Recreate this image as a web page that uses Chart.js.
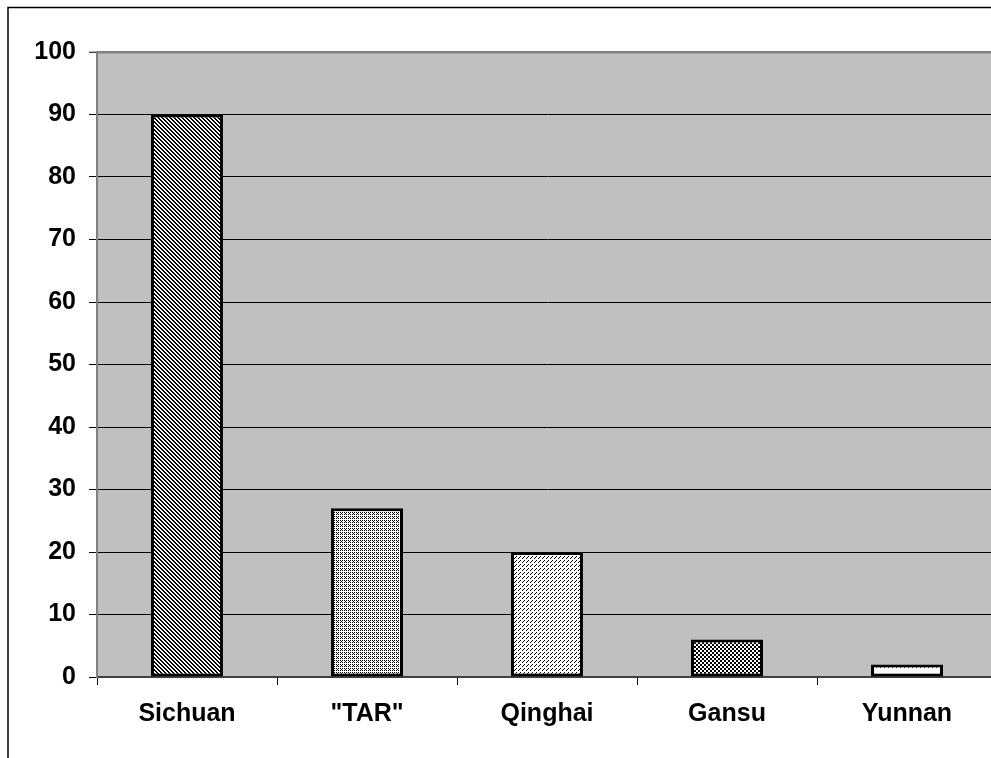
<!DOCTYPE html>
<html>
<head>
<meta charset="utf-8">
<script src="https://cdn.jsdelivr.net/npm/chart.js@4/dist/chart.umd.min.js"></script>
<style>
  html, body { margin: 0; padding: 0; background: #ffffff; overflow: hidden; }
  #wrap { width: 991px; height: 758px; overflow: hidden; position: relative; }
  canvas { display: block; }
</style>
</head>
<body>
<div id="wrap"><canvas id="chart" width="1000" height="758"></canvas></div>
<script>
// Regions and counts
const regions = ['Sichuan', '"TAR"', 'Qinghai', 'Gansu', 'Yunnan'];
const counts = [90, 27, 20, 6, 2];
const yTicks = [0, 10, 20, 30, 40, 50, 60, 70, 80, 90, 100];

// Build a small monochrome fill pattern from a pixel test
function makePattern(size, isInk) {
  const c = document.createElement('canvas');
  c.width = size; c.height = size;
  const g = c.getContext('2d');
  g.fillStyle = '#ffffff';
  g.fillRect(0, 0, size, size);
  g.fillStyle = '#000000';
  for (let y = 0; y < size; y++) {
    for (let x = 0; x < size; x++) {
      if (isInk(x, y)) g.fillRect(x, y, 1, 1);
    }
  }
  return g.createPattern(c, 'repeat');
}

const ctx = document.getElementById('chart').getContext('2d');

const fills = [
  // diagonal stripes
  makePattern(4, (x, y) => ((x - y + 8) % 4) < 2),
  // light grid of fine dots
  makePattern(4, (x, y) => (y % 2 === 0 && x % 2 === 0) || (y % 4 === 1 && x % 4 === 1)),
  // sparse dots
  makePattern(4, (x, y) => (y % 2 === 0 && (x + (y % 4 === 0 ? 0 : 2)) % 4 < 2) && x % 2 === 0 || (y % 4 === 1 && x % 4 === 3)),
  // checkerboard
  makePattern(4, (x, y) => ((Math.floor(x / 2) + Math.floor(y / 2)) % 2) === 0),
  // very sparse dots
  makePattern(8, (x, y) => (x % 4 === 0 && y === 3))
];

const labelFont = { family: 'Arial, "Liberation Sans", sans-serif', size: 25, weight: 'bold' };

const plotBackground = {
  id: 'plotBackground',
  beforeDraw(chart) {
    const { ctx, chartArea: a } = chart;
    ctx.save();
    ctx.fillStyle = '#c0c0c0';
    ctx.fillRect(a.left, a.top, a.right - a.left, a.bottom - a.top);
    ctx.restore();
  },
  afterDraw(chart) {
    const { ctx } = chart;
    ctx.save();
    ctx.strokeStyle = '#000000';
    ctx.lineWidth = 1.5;
    ctx.beginPath();
    ctx.moveTo(8, 1000);
    ctx.lineTo(8, 7.5);
    ctx.lineTo(1100, 7.5);
    ctx.stroke();
    ctx.restore();
  }
};

new Chart(ctx, {
  type: 'bar',
  data: {
    labels: regions,
    datasets: [{
      data: counts,
      backgroundColor: fills,
      borderColor: '#000000',
      borderWidth: 3,
      borderSkipped: false,
      barPercentage: 0.4,
      categoryPercentage: 1.0
    }]
  },
  options: {
    responsive: false,
    animation: false,
    layout: { padding: { top: 52, right: 3, left: 0, bottom: 0 } },
    plugins: {
      legend: { display: false },
      tooltip: { enabled: false }
    },
    scales: {
      x: {
        offset: true,
        grid: {
          offset: true,
          drawOnChartArea: false,
          drawTicks: true,
          tickLength: 8,
          tickColor: '#000000'
        },
        border: { color: '#404040', width: 2 },
        ticks: {
          color: '#000000',
          padding: 14,
          maxRotation: 0,
          font: labelFont
        },
        afterFit(scale) { scale.height = 81; }
      },
      y: {
        min: 0,
        max: 100,
        afterBuildTicks(scale) { scale.ticks = yTicks.map(v => ({ value: v })); },
        grid: {
          color: (c) => (c.tick && c.tick.value === 100 ? '#808080' : '#000000'),
          lineWidth: (c) => (c.tick && c.tick.value === 100 ? 2.5 : 1),
          tickLength: 8,
          tickColor: '#000000',
          tickWidth: 1
        },
        border: { color: '#808080', width: 2 },
        ticks: {
          color: '#000000',
          padding: 13,
          font: labelFont
        },
        afterFit(scale) { scale.width = 97; }
      }
    }
  },
  plugins: [plotBackground]
});
</script>
</body>
</html>
